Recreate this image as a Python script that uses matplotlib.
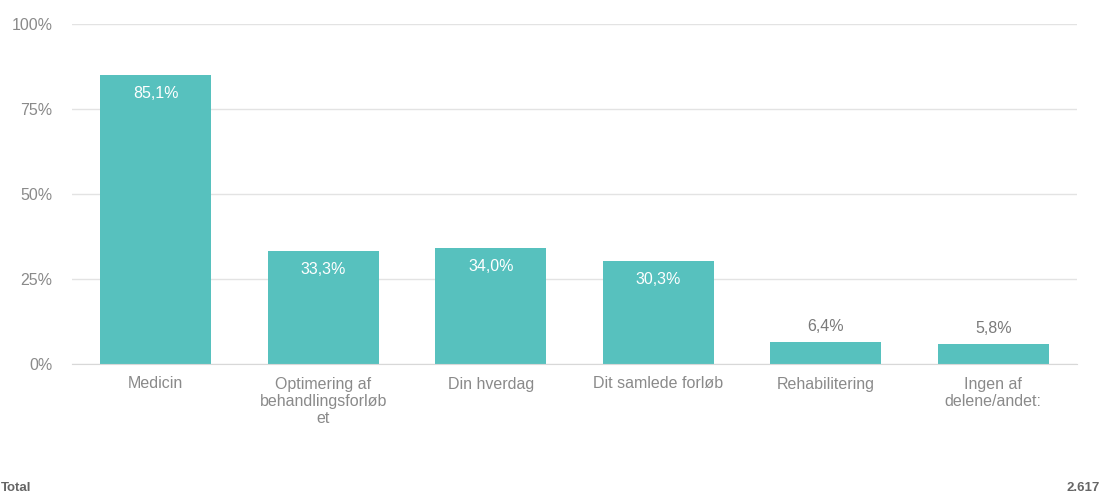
import matplotlib
matplotlib.use('Agg')
import matplotlib.pyplot as plt

categories = ["Medicin", "Optimering af\nbehandlingsforløb\net", "Din hverdag",
              "Dit samlede forløb", "Rehabilitering", "Ingen af\ndelene/andet:"]
values = [85.1, 33.3, 34.0, 30.3, 6.4, 5.8]
yticks = [0, 25, 50, 75, 100]
total = "2.617"

plt.rcParams['font.family'] = ['Liberation Sans', 'DejaVu Sans']

fig = plt.figure(figsize=(11.04, 4.97), dpi=100)
ax = fig.add_axes([72 / 1104, 1 - 364 / 497, (1077 - 72) / 1104, 340 / 497])

x = list(range(len(categories)))
ax.bar(x, values, width=0.66, color='#57c1be', zorder=2)

for xi, v in zip(x, values):
    label = f"{v:.1f}%".replace('.', ',')
    if v > 15:
        ax.text(xi, v - 5.4, label, ha='center', va='center', color='white', fontsize=11.5, zorder=3)
    else:
        ax.text(xi, v + 2.4, label, ha='center', va='bottom', color='#7a7a7a', fontsize=11.5, zorder=3)

ax.set_xlim(-0.5, 5.5)
ax.set_ylim(0, 100)
ax.set_yticks(yticks)
ax.set_yticklabels([f"{t}%" for t in yticks])
ax.set_xticks(x)
ax.set_xticklabels(categories, linespacing=1.2)
ax.tick_params(axis='both', length=0, colors='#8a8a8a', labelsize=11.5)
ax.tick_params(axis='y', pad=14)
ax.tick_params(axis='x', pad=9)
ax.grid(axis='y', color='#e3e3e3', linewidth=1, zorder=0)
for s in ['top', 'right', 'left']:
    ax.spines[s].set_visible(False)
ax.spines['bottom'].set_color('#d8d8d8')

fig.text(1 / 1104, 1 - 488 / 497, "Total", ha='left', va='center', fontsize=9.5,
         fontweight='bold', color='#666666')
fig.text(1100 / 1104, 1 - 488 / 497, total, ha='right', va='center', fontsize=9.5,
         fontweight='bold', color='#666666')

fig.savefig('out.png', dpi=100)
